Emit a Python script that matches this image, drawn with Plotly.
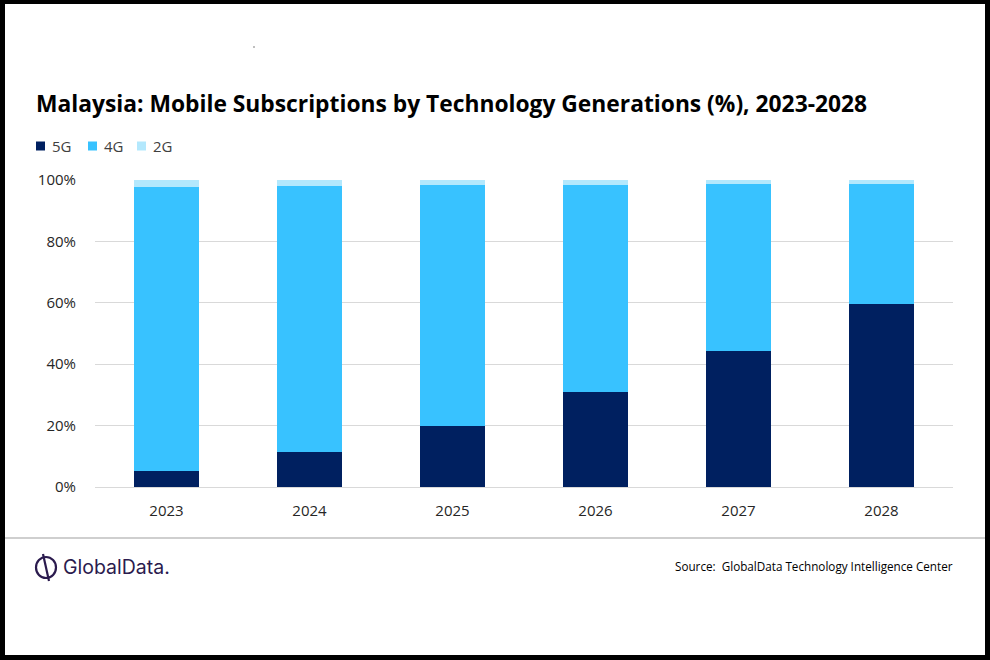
import plotly.graph_objects as go

years = ["2023", "2024", "2025", "2026", "2027", "2028"]
share_5g = [5.2, 11.5, 20.0, 30.9, 44.3, 59.5]
share_4g = [92.6, 86.5, 78.5, 67.6, 54.5, 39.3]
share_2g = [2.2, 2.0, 1.5, 1.5, 1.2, 1.2]
y_ticks = [0, 20, 40, 60, 80, 100]
y_labels = ["0%", "20%", "40%", "60%", "80%", "100%"]
series_names = ["5G", "4G", "2G"]
series_colors = ["#002060", "#38C2FF", "#B3E8FD"]

W, H = 990, 660
L, R, T, B = 95, 953, 180, 487  # plot area in pixels

def px(x):
    return (x - L) / (R - L)

def py(y):
    return (B - y) / (B - T)

fig = go.Figure()
for name, vals, col in zip(series_names, [share_5g, share_4g, share_2g], series_colors):
    fig.add_trace(go.Bar(x=years, y=vals, name=name, marker=dict(color=col, line=dict(width=0))))

font_main = "Open Sans"
tick_col = "#262626"

shapes = []
# frame
for x0, y0, x1, y1 in [(0, 0, W, 4), (0, 0, 5, H), (985, 0, W, H), (0, 655, W, H)]:
    shapes.append(dict(type="rect", xref="paper", yref="paper", x0=px(x0), x1=px(x1), y0=py(y0), y1=py(y1),
                       fillcolor="black", line=dict(width=0), layer="above"))
# separator line
shapes.append(dict(type="line", xref="paper", yref="paper", x0=px(5), x1=px(985), y0=py(538), y1=py(538),
                   line=dict(color="#BFBFBF", width=1.5)))
# logo icon
shapes.append(dict(type="circle", xref="paper", yref="paper", x0=px(36), x1=px(56), y0=py(557), y1=py(578),
                   line=dict(color="#2B1B4E", width=2.2)))
shapes.append(dict(type="line", xref="paper", yref="paper", x0=px(43), x1=px(49), y0=py(554), y1=py(581),
                   line=dict(color="#2B1B4E", width=2.2)))
# speck
shapes.append(dict(type="rect", xref="paper", yref="paper", x0=px(253.5), x1=px(254.5), y0=py(46.5), y1=py(47.5),
                   fillcolor="black", line=dict(width=0)))

annotations = [
    dict(text="<b>Malaysia: Mobile Subscriptions by Technology Generations (%), 2023-2028</b>",
         xref="paper", yref="paper", x=px(34), y=py(103), xanchor="left", yanchor="middle",
         showarrow=False, font=dict(family=font_main, size=22.8, color="#000000")),
    dict(text="GlobalData.", xref="paper", yref="paper", x=px(61), y=py(567), xanchor="left", yanchor="middle",
         showarrow=False, font=dict(family="Inter", size=19.5, color="#2B1B4E")),
    dict(text="Source:  GlobalData Technology Intelligence Center", xref="paper", yref="paper",
         x=px(955), y=py(566), xanchor="right", yanchor="middle", showarrow=False,
         font=dict(family=font_main, size=11.7, color="#000000")),
]

# legend (drawn manually to match compact spacing)
leg_sq_x = [36, 88, 137]
for name, col, sx in zip(series_names, series_colors, leg_sq_x):
    shapes.append(dict(type="rect", xref="paper", yref="paper", x0=px(sx), x1=px(sx + 9), y0=py(141.5), y1=py(150.5),
                       fillcolor=col, line=dict(width=0)))
    annotations.append(dict(text=name, xref="paper", yref="paper", x=px(sx + 14), y=py(146), xanchor="left",
                            yanchor="middle", showarrow=False,
                            font=dict(family=font_main, size=15, color="#404040")))

fig.update_layout(
    width=W, height=H,
    margin=dict(l=L, r=W - R, t=T, b=H - B, pad=0),
    paper_bgcolor="white", plot_bgcolor="white",
    barmode="stack", bargap=0.545,
    showlegend=False,
    xaxis=dict(type="category", showgrid=False, showline=False, ticks="",
               tickfont=dict(family=font_main, size=15, color=tick_col), ticklabelstandoff=13),
    yaxis=dict(range=[0, 100], tickvals=y_ticks, ticktext=y_labels, showgrid=True, gridcolor="#D9D9D9",
               gridwidth=1, zeroline=True, zerolinecolor="#D9D9D9", zerolinewidth=1, showline=False, ticks="",
               tickfont=dict(family=font_main, size=15, color=tick_col), ticklabelstandoff=18),
    shapes=shapes, annotations=annotations,
)

fig.write_html("out.html", config={"displayModeBar": False},
               post_script="document.body.style.margin='0px';document.body.style.overflow='hidden';")
